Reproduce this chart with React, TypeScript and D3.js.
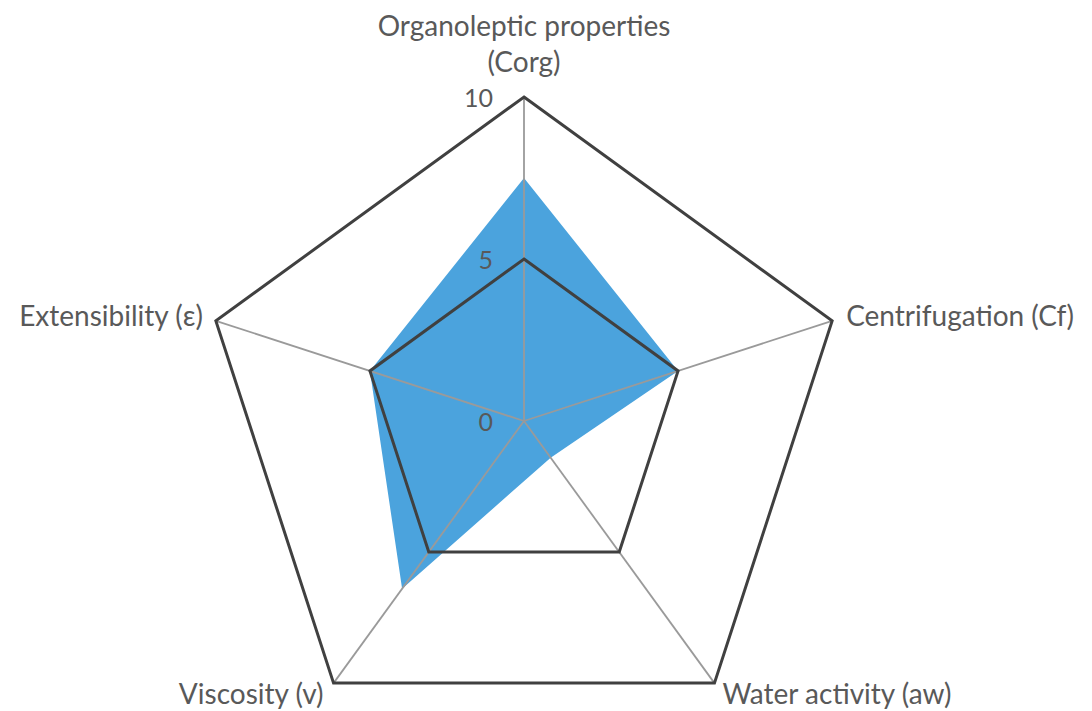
import * as React from "react";
import * as d3 from "d3";

const axisLabels: string[][] = [
  ["Organoleptic properties", "(Corg)"],
  ["Centrifugation (Cf)"],
  ["Water activity (aw)"],
  ["Viscosity (v)"],
  ["Extensibility (ε)"],
];
const sampleValues = [7.5, 5, 1.4, 6.4, 5];
const gridLevels = [5, 10];
const tickValues = [0, 5, 10];

const W = 1092;
const H = 711;
const CX = 524;
const CY = 421;
const RADIUS = 324;

const FONT = "Lato, 'Open Sans', sans-serif";
const TEXT_COLOR = "#595959";

export default function App() {
  const ref = React.useRef<SVGSVGElement | null>(null);

  React.useEffect(() => {
    if (!ref.current) return;
    const svg = d3.select(ref.current);
    svg.selectAll("*").remove();

    const n = axisLabels.length;
    const angle = d3.scaleLinear().domain([0, n]).range([0, Math.PI * 2]);
    const r = d3.scaleLinear().domain([0, 10]).range([0, RADIUS]);

    const pt = (i: number, v: number): [number, number] => {
      const a = angle(i);
      return [Math.sin(a) * r(v), -Math.cos(a) * r(v)];
    };

    const g = svg.append("g").attr("transform", `translate(${CX},${CY})`);

    // filled series first, grid sits on top of it
    const radial = d3
      .lineRadial<number>()
      .radius((d) => r(d))
      .angle((_, i) => angle(i))
      .curve(d3.curveLinearClosed);

    g.append("path")
      .attr("d", radial(sampleValues) ?? "")
      .attr("fill", "#4ba3dd")
      .attr("stroke", "none");

    // spokes
    for (let i = 0; i < n; i++) {
      const [x, y] = pt(i, 10);
      g.append("line")
        .attr("x1", 0)
        .attr("y1", 0)
        .attr("x2", x)
        .attr("y2", y)
        .attr("stroke", "#9a9a9a")
        .attr("stroke-width", 1.8);
    }

    // grid pentagons
    gridLevels.forEach((lv) => {
      g.append("path")
        .attr("d", radial(d3.range(n).map(() => lv)) ?? "")
        .attr("fill", "none")
        .attr("stroke", "#404040")
        .attr("stroke-width", 3)
        .attr("stroke-linejoin", "miter");
    });

    // tick labels
    tickValues.forEach((t) => {
      g.append("text")
        .text(t)
        .attr("x", -31)
        .attr("y", -r(t))
        .attr("text-anchor", "end")
        .attr("dominant-baseline", "central")
        .attr("font-family", FONT)
        .attr("font-size", 25)
        .attr("fill", TEXT_COLOR);
    });

    // axis labels
    axisLabels.forEach((lines, i) => {
      const [x, y] = pt(i, 10);
      let tx = x;
      let ty = y;
      let anchor = "middle";
      if (i === 0) {
        ty = y - 61;
      } else if (i === 1) {
        tx = x + 14;
        ty = y + 5;
        anchor = "start";
      } else if (i === 2) {
        tx = x + 8;
        ty = y + 21;
        anchor = "start";
      } else if (i === 3) {
        tx = x - 10;
        ty = y + 21;
        anchor = "end";
      } else {
        tx = x - 13;
        ty = y + 5;
        anchor = "end";
      }
      const text = g
        .append("text")
        .attr("x", tx)
        .attr("y", ty)
        .attr("text-anchor", anchor)
        .attr("font-family", FONT)
        .attr("font-size", 28)
        .attr("fill", TEXT_COLOR);
      lines.forEach((line, k) => {
        text
          .append("tspan")
          .attr("x", tx)
          .attr("dy", k === 0 ? 0 : 36)
          .text(line);
      });
    });
  }, []);

  return (
    <svg
      ref={ref}
      width={W}
      height={H}
      style={{ position: "absolute", left: 0, top: 0, background: "#fff" }}
    />
  );
}
